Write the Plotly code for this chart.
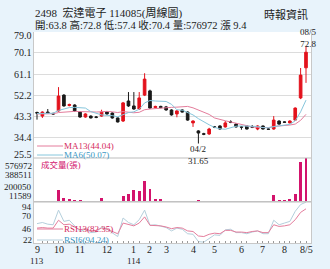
import plotly.graph_objects as go

# ---------------- data ----------------
idx = list(range(51))
opens = [44.8, 43.3, 45.0, 44.3, 45.5, 52.2, 47.8, 48.0, 45.0, 42.9,
         43.3, 42.9, 43.3, 45.0, 44.6, 42.5, 41.2, 49.7, 47.6, 46.3,
         52.2, 54.0, 46.9, 47.4, 47.2, 45.9, 44.2, 45.9, 45.0, 40.4,
         37.0, 35.8, 35.7, 38.7, 39.1, 38.7, 40.8, 39.9, 38.7, 39.1,
         38.7, 37.8, 39.1, 37.8, 37.8, 41.2, 40.8, 40.4, 41.6, 51.0, 63.8]
highs = [45.2, 45.3, 46.3, 44.8, 55.6, 52.6, 48.6, 48.3, 45.3, 44.5,
         43.6, 43.3, 46.0, 45.4, 44.9, 42.8, 49.3, 53.5, 53.5, 53.5,
         61.5, 54.5, 47.7, 47.7, 47.6, 46.2, 45.8, 46.2, 45.3, 41.5,
         37.3, 36.2, 38.3, 39.1, 39.4, 41.2, 41.5, 40.2, 39.0, 39.3,
         39.5, 39.4, 39.3, 38.2, 43.3, 41.5, 41.0, 41.5, 47.0, 63.7, 72.8]
lows = [41.8, 42.5, 44.3, 43.8, 45.2, 47.3, 47.4, 45.2, 42.6, 42.6,
        42.3, 42.4, 43.0, 43.9, 42.2, 40.6, 40.8, 47.2, 46.0, 46.0,
        51.8, 46.3, 46.6, 46.6, 45.6, 43.5, 42.8, 44.8, 41.3, 38.7,
        31.65, 35.2, 35.3, 38.2, 37.5, 38.4, 40.3, 38.4, 37.5, 37.6,
        38.2, 37.3, 37.6, 37.4, 37.5, 39.6, 40.4, 40.2, 41.3, 50.5, 57.4]
closes = [44.6, 45.0, 44.6, 44.2, 51.8, 47.6, 48.2, 45.5, 42.9, 44.2,
          42.5, 42.8, 45.0, 44.2, 42.5, 40.8, 48.9, 47.6, 46.3, 51.0,
          59.0, 46.7, 47.4, 46.9, 45.9, 43.8, 45.5, 45.0, 41.6, 41.2,
          36.1, 35.6, 37.8, 38.6, 37.8, 40.4, 40.7, 38.7, 38.6, 37.8,
          38.6, 39.1, 37.8, 37.7, 41.6, 39.9, 40.7, 41.2, 46.7, 60.7, 70.4]
ma6 = [44.4, 44.5, 44.6, 44.5, 45.7, 46.3, 46.9, 47.0, 46.7, 46.7,
       45.2, 44.4, 43.8, 43.6, 43.5, 43.0, 44.0, 44.8, 45.1, 46.2,
       48.9, 49.9, 49.7, 49.6, 49.5, 48.3, 46.0, 45.8, 44.8, 43.8,
       42.2, 40.8, 39.6, 38.5, 37.9, 37.7, 38.5, 39.0, 39.1, 39.0,
       39.1, 38.9, 38.4, 38.3, 38.8, 39.1, 39.5, 39.8, 41.3, 45.1, 50.07]
ma13 = [44.2, 44.3, 44.3, 44.3, 44.8, 45.0, 45.2, 45.3, 45.2, 45.3,
        45.1, 45.0, 45.3, 45.3, 45.1, 44.8, 45.2, 44.8, 44.7, 44.9,
        46.0, 46.3, 46.5, 46.9, 47.1, 47.0, 47.1, 47.3, 47.4, 46.8,
        45.9, 45.1, 44.0, 42.5, 41.8, 41.3, 40.8, 40.2, 39.8, 39.2,
        38.7, 38.5, 38.3, 38.4, 38.9, 39.0, 39.2, 39.5, 39.9, 41.5, 44.04]
volume = [20000, 22000, 20000, 18000, 171000, 63000, 46000, 37000, 33000, 24000,
          22000, 20000, 63000, 18000, 16000, 15000, 89000, 118000, 165000, 150000,
          281000, 182000, 54000, 50000, 24000, 26000, 24000, 26000, 28000, 30000,
          40000, 24000, 22000, 20000, 26000, 28000, 26000, 14000, 11589, 20000,
          24000, 22000, 18000, 16000, 97000, 33000, 33000, 46000, 110000, 525000, 576972]
rsi6 = [56, 58, 55, 54, 80, 60, 62, 52, 42, 46,
        40, 41, 50, 46, 39, 33, 66, 58, 54, 63,
        80, 53, 54, 52, 49, 43, 48, 46, 38, 37,
        24, 23, 30, 36, 35, 45, 46, 40, 40, 38,
        41, 43, 38, 38, 62, 54, 57, 60, 78, 90, 94.24]
rsi13 = [48, 49, 48, 48, 62, 54, 55, 50, 45, 47,
         43, 44, 48, 46, 42, 38, 57, 54, 52, 57,
         68, 53, 53, 52, 50, 47, 49, 48, 43, 42,
         34, 33, 37, 39, 38, 44, 44, 41, 41, 40,
         42, 43, 40, 40, 54, 51, 52, 54, 63, 76, 82.35]

price_ticks = [79.0, 70.1, 61.1, 52.2, 43.3, 34.4, 25.5]
vol_ticks = [576972, 388511, 200050, 11589]
rsi_ticks = [94, 70, 46, 22]
month_pos = [0, 4, 8, 13, 18, 21, 24, 29, 33, 38, 42, 46, 50]
month_text = ["9", "10", "11", "12", "1", "2", "3", "4", "5", "6", "7", "8", "8/5"]
year_pos = [0, 18]
year_text = ["113", "114"]

title1 = "2498  宏達電子 114085(周線圖)"
title2 = "開:63.8 高:72.8 低:57.4 收:70.4 量:576972 漲 9.4"
source = "時報資訊"

# ---------------- style ----------------
SERIF = "Liberation Serif, Times New Roman, Noto Sans CJK TC, serif"
RED = "#e3121c"
BLACK = "#1a1a1a"
PINK = "#e47d9c"
BLUE = "#86c6dc"
PINK_T = "#d42a5e"
BLUE_T = "#3c98c4"
MAGENTA = "#d3136c"
BG = "#e8f3fb"
GRID = "#dcdcdc"
TXT = "#222222"

d_rsi = [0.0, 41 / 211]
d_vol = [41 / 211, 85 / 211]
d_main = [85 / 211, 1.0]

fig = go.Figure()
fig.add_trace(go.Candlestick(
    x=idx, open=opens, high=highs, low=lows, close=closes,
    increasing=dict(line=dict(color=RED, width=1), fillcolor=RED),
    decreasing=dict(line=dict(color=BLACK, width=1), fillcolor=BLACK),
    whiskerwidth=0, yaxis="y", xaxis="x", hoverinfo="skip"))
fig.add_trace(go.Scatter(x=idx, y=ma13, mode="lines", line=dict(color=PINK, width=1), yaxis="y"))
fig.add_trace(go.Scatter(x=idx, y=ma6, mode="lines", line=dict(color=BLUE, width=1), yaxis="y"))
fig.add_trace(go.Bar(x=idx, y=volume, marker=dict(color=MAGENTA, line=dict(width=0)),
                     width=0.55, yaxis="y2"))
fig.add_trace(go.Scatter(x=idx, y=rsi6, mode="lines", line=dict(color="#b4cfdc", width=1), yaxis="y3"))
fig.add_trace(go.Scatter(x=idx, y=rsi13, mode="lines", line=dict(color=PINK, width=1), yaxis="y3"))

axis_common = dict(showticklabels=False, ticks="", zeroline=False, automargin=False,
                   showline=True, linecolor="#c8c8c8", linewidth=1, mirror=True)
fig.update_layout(
    width=330, height=269, autosize=False,
    margin=dict(l=34, r=19, t=32, b=26),
    paper_bgcolor=BG, plot_bgcolor="white",
    showlegend=False, bargap=0,
    font=dict(family=SERIF, size=10, color=TXT),
    xaxis=dict(range=[-0.56, 50.93], anchor="y3", automargin=False,
               showticklabels=False, ticks="",
               showgrid=False, zeroline=False, showline=True, linecolor="#c8c8c8",
               mirror=True, rangeslider=dict(visible=False),
               minor=dict(tickmode="linear", tick0=0, dtick=1, ticks="inside",
                          ticklen=2, tickcolor="#999999", showgrid=False)),
    yaxis=dict(domain=d_main, range=[25.5, 79.0], tickmode="array", tickvals=price_ticks,
               showgrid=True, gridcolor=GRID, gridwidth=1, **axis_common),
    yaxis2=dict(domain=d_vol, range=[11589, 576972], showgrid=False, **axis_common),
    yaxis3=dict(domain=d_rsi, range=[21.5, 94.5], showgrid=False, **axis_common),
)

ann = []
def ylab(vals, yref, shifts, size):
    for v, s in zip(vals, shifts):
        txt = f"{v:.1f}" if isinstance(v, float) else str(v)
        ann.append(dict(x=0, xref="paper", y=v, yref=yref, text=txt, showarrow=False,
                        xanchor="right", xshift=-1, yshift=s, borderpad=0,
                        font=dict(family=SERIF, size=size, color=TXT)))
ylab(price_ticks, "y", [-3, 0, 0, 0, 0, 0, 4], 10)
ylab(vol_ticks, "y2", [-8, -2, 0, 6], 9)
ylab(rsi_ticks, "y3", [-4.5, 0, 0, 3], 9)

# x labels
for p, t in zip(month_pos, month_text):
    ann.append(dict(x=p, xref="x", y=0, yref="paper", text=t, showarrow=False,
                    yanchor="middle", yshift=-6, borderpad=0,
                    font=dict(family=SERIF, size=10, color=TXT)))
for p, t in zip(year_pos, year_text):
    ann.append(dict(x=p, xref="x", y=0, yref="paper", text=t, showarrow=False,
                    yanchor="middle", yshift=-17.5, borderpad=0,
                    font=dict(family=SERIF, size=9, color=TXT)))

# titles
ann.append(dict(x=-0.004, xref="paper", y=(243 - 13) / 211, yref="paper", text=title1, showarrow=False,
                xanchor="left", yanchor="middle", font=dict(family=SERIF, size=11, color=TXT)))
ann.append(dict(x=-0.004, xref="paper", y=(243 - 25) / 211, yref="paper", text=title2, showarrow=False,
                xanchor="left", yanchor="middle", font=dict(family=SERIF, size=10.5, color=TXT)))
ann.append(dict(x=0.996, xref="paper", y=(243 - 14) / 211, yref="paper", text=source, showarrow=False,
                xanchor="right", yanchor="middle", font=dict(family=SERIF, size=11, color=TXT)))

# high / low markers
ann.append(dict(x=idx[-1], y=highs[-1], xref="x", yref="y", text="08/5<br>72.8", showarrow=False,
                yanchor="bottom", xshift=2, yshift=-3, borderpad=0,
                font=dict(family=SERIF, size=9, color=TXT)))
ann.append(dict(x=30, y=31.65, xref="x", yref="y", text="04/2<br>31.65", showarrow=False,
                yanchor="top", yshift=1, borderpad=0,
                font=dict(family=SERIF, size=9, color=TXT)))

# legends
def legend(y, text, tcolor, lcolor):
    ann.append(dict(x=0.105, xref="paper", y=y, yref="paper", text=text, showarrow=False,
                    xanchor="left", yanchor="middle", borderpad=0,
                    font=dict(family=SERIF, size=9, color=tcolor)))
    return dict(type="line", xref="paper", yref="paper", x0=0.011, x1=0.105, y0=y, y1=y,
                line=dict(color=lcolor, width=1))

shapes = []
shapes.append(legend((243 - 146) / 211, "MA13(44.04)", PINK_T, PINK))
shapes.append(legend((243 - 155) / 211, "MA6(50.07)", BLUE_T, BLUE))
shapes.append(legend((243 - 229) / 211, "RSI13(82.35)", PINK_T, PINK))
shapes.append(legend((243 - 240) / 211, "RSI6(94.24)", BLUE_T, "#b4cfdc"))
ann.append(dict(x=0.02, xref="paper", y=(243 - 165) / 211, yref="paper", text="成交量(張)",
                showarrow=False, xanchor="left", yanchor="middle", borderpad=0,
                font=dict(family=SERIF, size=8.5, color=MAGENTA)))

for yb in (d_vol[1], d_rsi[1]):
    shapes.append(dict(type="line", xref="paper", yref="paper", x0=0, x1=1, y0=yb, y1=yb,
                       line=dict(color="#bdbdbd", width=1)))

fig.update_layout(annotations=ann, shapes=shapes)
fig.write_html("out.html")
